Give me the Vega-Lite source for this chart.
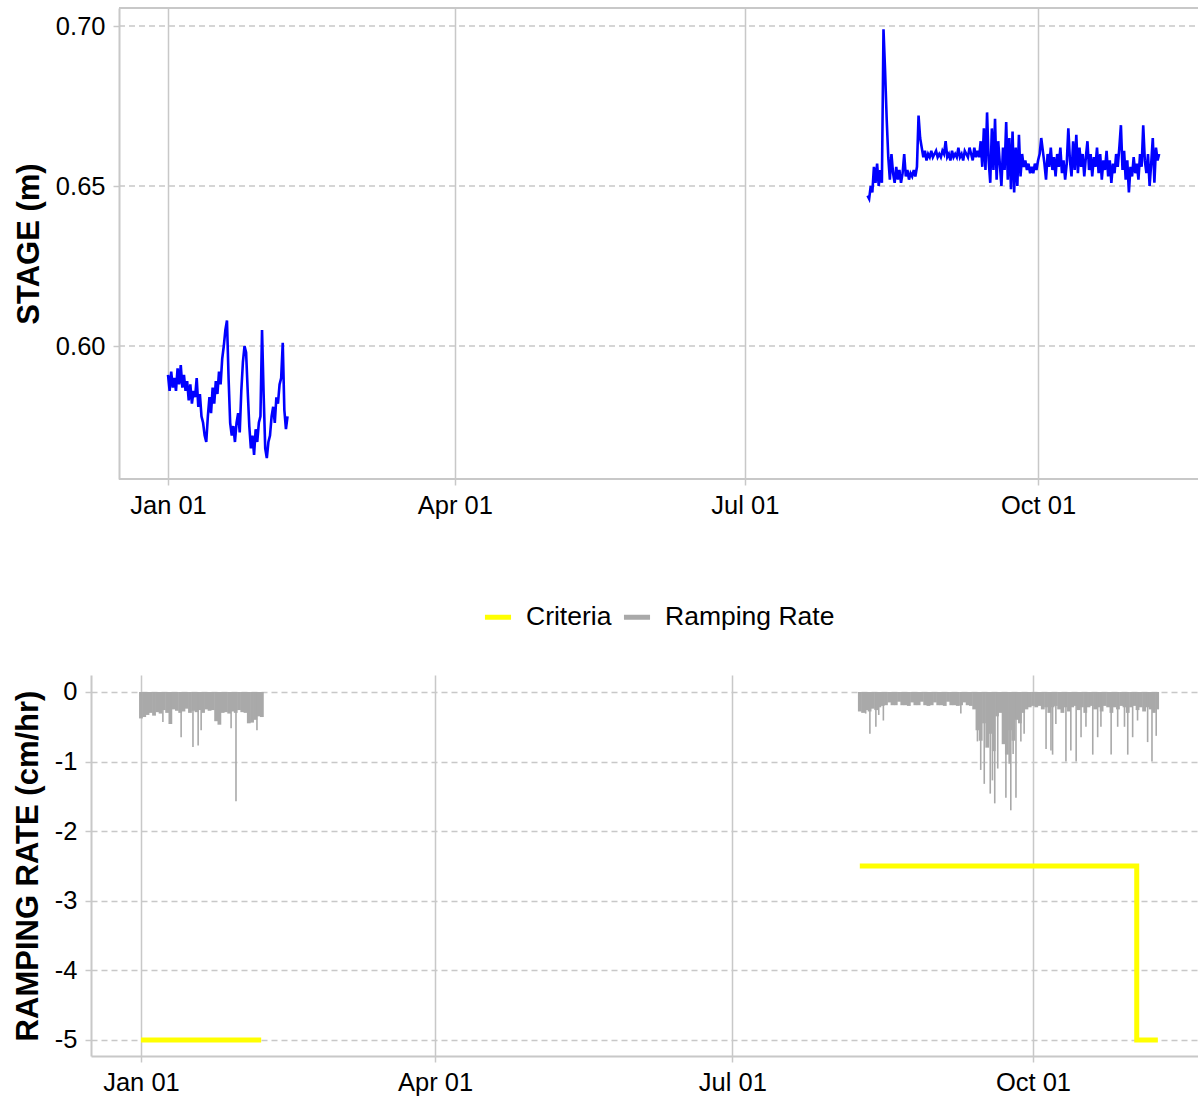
{
  "$schema": "https://vega.github.io/schema/vega-lite/v6.json",
  "padding": {"left": 12, "top": 7, "right": 0, "bottom": 0},
  "spacing": 156,
  "datasets": {
    "stage": [
      {"t":"2021-01-01T00:00","v":0.591,"s":1},{"t":"2021-01-01T12:00","v":0.586,"s":1},
      {"t":"2021-01-02T00:00","v":0.592,"s":1},{"t":"2021-01-02T12:00","v":0.587,"s":1},
      {"t":"2021-01-03T00:00","v":0.590,"s":1},{"t":"2021-01-03T12:00","v":0.586,"s":1},
      {"t":"2021-01-04T00:00","v":0.593,"s":1},{"t":"2021-01-04T12:00","v":0.588,"s":1},
      {"t":"2021-01-05T00:00","v":0.594,"s":1},{"t":"2021-01-05T12:00","v":0.587,"s":1},
      {"t":"2021-01-06T00:00","v":0.591,"s":1},{"t":"2021-01-06T12:00","v":0.586,"s":1},
      {"t":"2021-01-07T00:00","v":0.589,"s":1},{"t":"2021-01-07T12:00","v":0.583,"s":1},
      {"t":"2021-01-08T00:00","v":0.588,"s":1},{"t":"2021-01-08T12:00","v":0.582,"s":1},
      {"t":"2021-01-09T00:00","v":0.586,"s":1},{"t":"2021-01-09T12:00","v":0.584,"s":1},
      {"t":"2021-01-10T00:00","v":0.590,"s":1},{"t":"2021-01-10T12:00","v":0.581,"s":1},
      {"t":"2021-01-11T00:00","v":0.585,"s":1},{"t":"2021-01-11T12:00","v":0.578,"s":1},
      {"t":"2021-01-12T00:00","v":0.576,"s":1},{"t":"2021-01-12T12:00","v":0.572,"s":1},
      {"t":"2021-01-13T00:00","v":0.570,"s":1},{"t":"2021-01-13T12:00","v":0.578,"s":1},
      {"t":"2021-01-14T00:00","v":0.584,"s":1},{"t":"2021-01-14T12:00","v":0.579,"s":1},
      {"t":"2021-01-15T00:00","v":0.587,"s":1},{"t":"2021-01-15T12:00","v":0.582,"s":1},
      {"t":"2021-01-16T00:00","v":0.589,"s":1},{"t":"2021-01-16T12:00","v":0.585,"s":1},
      {"t":"2021-01-17T00:00","v":0.592,"s":1},{"t":"2021-01-17T12:00","v":0.588,"s":1},
      {"t":"2021-01-18T00:00","v":0.596,"s":1},{"t":"2021-01-18T12:00","v":0.600,"s":1},
      {"t":"2021-01-19T00:00","v":0.605,"s":1},{"t":"2021-01-19T12:00","v":0.608,"s":1},
      {"t":"2021-01-20T00:00","v":0.590,"s":1},{"t":"2021-01-20T12:00","v":0.576,"s":1},
      {"t":"2021-01-21T00:00","v":0.572,"s":1},{"t":"2021-01-21T12:00","v":0.575,"s":1},
      {"t":"2021-01-22T00:00","v":0.570,"s":1},{"t":"2021-01-22T12:00","v":0.576,"s":1},
      {"t":"2021-01-23T00:00","v":0.579,"s":1},{"t":"2021-01-23T12:00","v":0.573,"s":1},
      {"t":"2021-01-24T00:00","v":0.586,"s":1},{"t":"2021-01-24T12:00","v":0.595,"s":1},
      {"t":"2021-01-25T00:00","v":0.600,"s":1},{"t":"2021-01-25T12:00","v":0.598,"s":1},
      {"t":"2021-01-26T00:00","v":0.586,"s":1},{"t":"2021-01-26T12:00","v":0.575,"s":1},
      {"t":"2021-01-27T00:00","v":0.568,"s":1},{"t":"2021-01-27T12:00","v":0.572,"s":1},
      {"t":"2021-01-28T00:00","v":0.566,"s":1},{"t":"2021-01-28T12:00","v":0.574,"s":1},
      {"t":"2021-01-29T00:00","v":0.570,"s":1},{"t":"2021-01-29T12:00","v":0.576,"s":1},
      {"t":"2021-01-30T00:00","v":0.578,"s":1},{"t":"2021-01-30T12:00","v":0.605,"s":1},
      {"t":"2021-01-31T00:00","v":0.585,"s":1},{"t":"2021-01-31T12:00","v":0.568,"s":1},
      {"t":"2021-02-01T00:00","v":0.565,"s":1},{"t":"2021-02-01T12:00","v":0.570,"s":1},
      {"t":"2021-02-02T00:00","v":0.572,"s":1},{"t":"2021-02-02T12:00","v":0.578,"s":1},
      {"t":"2021-02-03T00:00","v":0.581,"s":1},{"t":"2021-02-03T12:00","v":0.576,"s":1},
      {"t":"2021-02-04T00:00","v":0.584,"s":1},{"t":"2021-02-04T12:00","v":0.582,"s":1},
      {"t":"2021-02-05T00:00","v":0.588,"s":1},{"t":"2021-02-05T12:00","v":0.590,"s":1},
      {"t":"2021-02-06T00:00","v":0.601,"s":1},{"t":"2021-02-06T12:00","v":0.580,"s":1},
      {"t":"2021-02-07T00:00","v":0.574,"s":1},{"t":"2021-02-07T12:00","v":0.578,"s":1},
      {"t":"2021-08-08T12:00","v":0.647,"s":2},
      {"t":"2021-08-09T00:00","v":0.646,"s":2},{"t":"2021-08-09T12:00","v":0.650,"s":2},
      {"t":"2021-08-10T00:00","v":0.648,"s":2},{"t":"2021-08-10T12:00","v":0.656,"s":2},
      {"t":"2021-08-11T00:00","v":0.651,"s":2},{"t":"2021-08-11T12:00","v":0.657,"s":2},
      {"t":"2021-08-12T00:00","v":0.650,"s":2},{"t":"2021-08-12T12:00","v":0.655,"s":2},
      {"t":"2021-08-13T00:00","v":0.651,"s":2},{"t":"2021-08-13T12:00","v":0.699,"s":2},
      {"t":"2021-08-14T00:00","v":0.686,"s":2},{"t":"2021-08-14T12:00","v":0.671,"s":2},
      {"t":"2021-08-15T00:00","v":0.659,"s":2},{"t":"2021-08-15T12:00","v":0.652,"s":2},
      {"t":"2021-08-16T00:00","v":0.660,"s":2},{"t":"2021-08-16T12:00","v":0.654,"s":2},
      {"t":"2021-08-17T00:00","v":0.651,"s":2},{"t":"2021-08-17T12:00","v":0.656,"s":2},
      {"t":"2021-08-18T00:00","v":0.652,"s":2},{"t":"2021-08-18T12:00","v":0.655,"s":2},
      {"t":"2021-08-19T00:00","v":0.651,"s":2},{"t":"2021-08-19T12:00","v":0.654,"s":2},
      {"t":"2021-08-20T00:00","v":0.660,"s":2},{"t":"2021-08-20T12:00","v":0.653,"s":2},
      {"t":"2021-08-21T00:00","v":0.655,"s":2},{"t":"2021-08-21T12:00","v":0.652,"s":2},
      {"t":"2021-08-22T00:00","v":0.654,"s":2},{"t":"2021-08-22T12:00","v":0.653,"s":2},
      {"t":"2021-08-23T00:00","v":0.655,"s":2},{"t":"2021-08-23T12:00","v":0.653,"s":2},
      {"t":"2021-08-24T00:00","v":0.656,"s":2},{"t":"2021-08-24T12:00","v":0.672,"s":2},
      {"t":"2021-08-25T00:00","v":0.665,"s":2},{"t":"2021-08-25T12:00","v":0.662,"s":2},
      {"t":"2021-08-26T00:00","v":0.659,"s":2},{"t":"2021-08-26T12:00","v":0.661,"s":2},
      {"t":"2021-08-27T00:00","v":0.658,"s":2},{"t":"2021-08-27T12:00","v":0.660,"s":2},
      {"t":"2021-08-28T00:00","v":0.659,"s":2},{"t":"2021-08-28T12:00","v":0.661,"s":2},
      {"t":"2021-08-29T00:00","v":0.659,"s":2},{"t":"2021-08-29T12:00","v":0.660,"s":2},
      {"t":"2021-08-30T00:00","v":0.661,"s":2},{"t":"2021-08-30T12:00","v":0.659,"s":2},
      {"t":"2021-08-31T00:00","v":0.660,"s":2},{"t":"2021-08-31T12:00","v":0.659,"s":2},
      {"t":"2021-09-01T00:00","v":0.661,"s":2},{"t":"2021-09-01T12:00","v":0.660,"s":2},
      {"t":"2021-09-02T00:00","v":0.664,"s":2},{"t":"2021-09-02T12:00","v":0.659,"s":2},
      {"t":"2021-09-03T00:00","v":0.660,"s":2},{"t":"2021-09-03T12:00","v":0.658,"s":2},
      {"t":"2021-09-04T00:00","v":0.661,"s":2},{"t":"2021-09-04T12:00","v":0.659,"s":2},
      {"t":"2021-09-05T00:00","v":0.660,"s":2},{"t":"2021-09-05T12:00","v":0.659,"s":2},
      {"t":"2021-09-06T00:00","v":0.662,"s":2},{"t":"2021-09-06T12:00","v":0.659,"s":2},
      {"t":"2021-09-07T00:00","v":0.660,"s":2},{"t":"2021-09-07T12:00","v":0.658,"s":2},
      {"t":"2021-09-08T00:00","v":0.661,"s":2},{"t":"2021-09-08T12:00","v":0.660,"s":2},
      {"t":"2021-09-09T00:00","v":0.659,"s":2},{"t":"2021-09-09T12:00","v":0.662,"s":2},
      {"t":"2021-09-10T00:00","v":0.660,"s":2},{"t":"2021-09-10T12:00","v":0.658,"s":2},
      {"t":"2021-09-11T00:00","v":0.662,"s":2},{"t":"2021-09-11T12:00","v":0.659,"s":2},
      {"t":"2021-09-12T00:00","v":0.661,"s":2},{"t":"2021-09-12T12:00","v":0.659,"s":2},
      {"t":"2021-09-13T00:00","v":0.664,"s":2},{"t":"2021-09-13T12:00","v":0.656,"s":2},
      {"t":"2021-09-14T00:00","v":0.668,"s":2},{"t":"2021-09-14T12:00","v":0.655,"s":2},
      {"t":"2021-09-15T00:00","v":0.673,"s":2},{"t":"2021-09-15T12:00","v":0.658,"s":2},
      {"t":"2021-09-16T00:00","v":0.651,"s":2},{"t":"2021-09-16T12:00","v":0.668,"s":2},
      {"t":"2021-09-17T00:00","v":0.655,"s":2},{"t":"2021-09-17T12:00","v":0.671,"s":2},
      {"t":"2021-09-18T00:00","v":0.652,"s":2},{"t":"2021-09-18T12:00","v":0.664,"s":2},
      {"t":"2021-09-19T00:00","v":0.657,"s":2},{"t":"2021-09-19T12:00","v":0.650,"s":2},
      {"t":"2021-09-20T00:00","v":0.662,"s":2},{"t":"2021-09-20T12:00","v":0.655,"s":2},
      {"t":"2021-09-21T00:00","v":0.670,"s":2},{"t":"2021-09-21T12:00","v":0.652,"s":2},
      {"t":"2021-09-22T00:00","v":0.665,"s":2},{"t":"2021-09-22T12:00","v":0.649,"s":2},
      {"t":"2021-09-23T00:00","v":0.667,"s":2},{"t":"2021-09-23T12:00","v":0.648,"s":2},
      {"t":"2021-09-24T00:00","v":0.662,"s":2},{"t":"2021-09-24T12:00","v":0.650,"s":2},
      {"t":"2021-09-25T00:00","v":0.666,"s":2},{"t":"2021-09-25T12:00","v":0.653,"s":2},
      {"t":"2021-09-26T00:00","v":0.660,"s":2},{"t":"2021-09-26T12:00","v":0.656,"s":2},
      {"t":"2021-09-27T00:00","v":0.658,"s":2},{"t":"2021-09-27T12:00","v":0.655,"s":2},
      {"t":"2021-09-28T00:00","v":0.657,"s":2},{"t":"2021-09-28T12:00","v":0.654,"s":2},
      {"t":"2021-09-29T00:00","v":0.656,"s":2},{"t":"2021-09-29T12:00","v":0.654,"s":2},
      {"t":"2021-09-30T00:00","v":0.657,"s":2},{"t":"2021-09-30T12:00","v":0.655,"s":2},
      {"t":"2021-10-01T00:00","v":0.658,"s":2},{"t":"2021-10-01T12:00","v":0.660,"s":2},
      {"t":"2021-10-02T00:00","v":0.665,"s":2},{"t":"2021-10-02T12:00","v":0.661,"s":2},
      {"t":"2021-10-03T00:00","v":0.657,"s":2},{"t":"2021-10-03T12:00","v":0.652,"s":2},
      {"t":"2021-10-04T00:00","v":0.660,"s":2},{"t":"2021-10-04T12:00","v":0.656,"s":2},
      {"t":"2021-10-05T00:00","v":0.662,"s":2},{"t":"2021-10-05T12:00","v":0.655,"s":2},
      {"t":"2021-10-06T00:00","v":0.659,"s":2},{"t":"2021-10-06T12:00","v":0.653,"s":2},
      {"t":"2021-10-07T00:00","v":0.660,"s":2},{"t":"2021-10-07T12:00","v":0.656,"s":2},
      {"t":"2021-10-08T00:00","v":0.662,"s":2},{"t":"2021-10-08T12:00","v":0.654,"s":2},
      {"t":"2021-10-09T00:00","v":0.658,"s":2},{"t":"2021-10-09T12:00","v":0.652,"s":2},
      {"t":"2021-10-10T00:00","v":0.657,"s":2},{"t":"2021-10-10T12:00","v":0.668,"s":2},
      {"t":"2021-10-11T00:00","v":0.658,"s":2},{"t":"2021-10-11T12:00","v":0.653,"s":2},
      {"t":"2021-10-12T00:00","v":0.664,"s":2},{"t":"2021-10-12T12:00","v":0.655,"s":2},
      {"t":"2021-10-13T00:00","v":0.666,"s":2},{"t":"2021-10-13T12:00","v":0.654,"s":2},
      {"t":"2021-10-14T00:00","v":0.662,"s":2},{"t":"2021-10-14T12:00","v":0.656,"s":2},
      {"t":"2021-10-15T00:00","v":0.660,"s":2},{"t":"2021-10-15T12:00","v":0.653,"s":2},
      {"t":"2021-10-16T00:00","v":0.659,"s":2},{"t":"2021-10-16T12:00","v":0.664,"s":2},
      {"t":"2021-10-17T00:00","v":0.655,"s":2},{"t":"2021-10-17T12:00","v":0.660,"s":2},
      {"t":"2021-10-18T00:00","v":0.653,"s":2},{"t":"2021-10-18T12:00","v":0.659,"s":2},
      {"t":"2021-10-19T00:00","v":0.656,"s":2},{"t":"2021-10-19T12:00","v":0.662,"s":2},
      {"t":"2021-10-20T00:00","v":0.654,"s":2},{"t":"2021-10-20T12:00","v":0.660,"s":2},
      {"t":"2021-10-21T00:00","v":0.652,"s":2},{"t":"2021-10-21T12:00","v":0.658,"s":2},
      {"t":"2021-10-22T00:00","v":0.655,"s":2},{"t":"2021-10-22T12:00","v":0.661,"s":2},
      {"t":"2021-10-23T00:00","v":0.653,"s":2},{"t":"2021-10-23T12:00","v":0.658,"s":2},
      {"t":"2021-10-24T00:00","v":0.651,"s":2},{"t":"2021-10-24T12:00","v":0.657,"s":2},
      {"t":"2021-10-25T00:00","v":0.654,"s":2},{"t":"2021-10-25T12:00","v":0.660,"s":2},
      {"t":"2021-10-26T00:00","v":0.656,"s":2},{"t":"2021-10-26T12:00","v":0.662,"s":2},
      {"t":"2021-10-27T00:00","v":0.669,"s":2},{"t":"2021-10-27T12:00","v":0.655,"s":2},
      {"t":"2021-10-28T00:00","v":0.661,"s":2},{"t":"2021-10-28T12:00","v":0.652,"s":2},
      {"t":"2021-10-29T00:00","v":0.658,"s":2},{"t":"2021-10-29T12:00","v":0.648,"s":2},
      {"t":"2021-10-30T00:00","v":0.656,"s":2},{"t":"2021-10-30T12:00","v":0.653,"s":2},
      {"t":"2021-10-31T00:00","v":0.659,"s":2},{"t":"2021-10-31T12:00","v":0.654,"s":2},
      {"t":"2021-11-01T00:00","v":0.657,"s":2},{"t":"2021-11-01T12:00","v":0.652,"s":2},
      {"t":"2021-11-02T00:00","v":0.660,"s":2},{"t":"2021-11-02T12:00","v":0.656,"s":2},
      {"t":"2021-11-03T00:00","v":0.669,"s":2},{"t":"2021-11-03T12:00","v":0.658,"s":2},
      {"t":"2021-11-04T00:00","v":0.654,"s":2},{"t":"2021-11-04T12:00","v":0.660,"s":2},
      {"t":"2021-11-05T00:00","v":0.650,"s":2},{"t":"2021-11-05T12:00","v":0.657,"s":2},
      {"t":"2021-11-06T00:00","v":0.665,"s":2},{"t":"2021-11-06T12:00","v":0.651,"s":2},
      {"t":"2021-11-07T00:00","v":0.662,"s":2},{"t":"2021-11-07T12:00","v":0.658,"s":2},
      {"t":"2021-11-08T00:00","v":0.660,"s":2}
    ],
    "ramp_band": [
      {"t":"2021-01-01T00:00","v":-0.38},{"t":"2021-01-02T00:00","v":-0.36},{"t":"2021-01-03T00:00","v":-0.33},
      {"t":"2021-01-04T00:00","v":-0.30},{"t":"2021-01-05T00:00","v":-0.34},{"t":"2021-01-06T00:00","v":-0.29},
      {"t":"2021-01-07T00:00","v":-0.31},{"t":"2021-01-08T00:00","v":-0.26},{"t":"2021-01-09T00:00","v":-0.30},
      {"t":"2021-01-10T00:00","v":-0.46},{"t":"2021-01-11T00:00","v":-0.25},{"t":"2021-01-12T00:00","v":-0.27},
      {"t":"2021-01-13T00:00","v":-0.30},{"t":"2021-01-14T00:00","v":-0.28},{"t":"2021-01-15T00:00","v":-0.24},
      {"t":"2021-01-16T00:00","v":-0.30},{"t":"2021-01-17T00:00","v":-0.27},{"t":"2021-01-18T00:00","v":-0.29},
      {"t":"2021-01-19T00:00","v":-0.26},{"t":"2021-01-20T00:00","v":-0.30},{"t":"2021-01-21T00:00","v":-0.25},
      {"t":"2021-01-22T00:00","v":-0.27},{"t":"2021-01-23T00:00","v":-0.26},{"t":"2021-01-24T00:00","v":-0.42},
      {"t":"2021-01-25T00:00","v":-0.47},{"t":"2021-01-26T00:00","v":-0.30},{"t":"2021-01-27T00:00","v":-0.29},
      {"t":"2021-01-28T00:00","v":-0.31},{"t":"2021-01-29T00:00","v":-0.28},{"t":"2021-01-30T00:00","v":-0.30},
      {"t":"2021-01-31T00:00","v":-0.26},{"t":"2021-02-01T00:00","v":-0.29},{"t":"2021-02-02T00:00","v":-0.30},
      {"t":"2021-02-03T00:00","v":-0.45},{"t":"2021-02-04T00:00","v":-0.44},{"t":"2021-02-05T00:00","v":-0.40},
      {"t":"2021-02-06T00:00","v":-0.35},{"t":"2021-02-07T00:00","v":-0.36},
      {"t":"2021-08-09T00:00","v":-0.28},{"t":"2021-08-10T00:00","v":-0.30},{"t":"2021-08-11T00:00","v":-0.26},
      {"t":"2021-08-12T00:00","v":-0.28},{"t":"2021-08-13T00:00","v":-0.24},{"t":"2021-08-14T00:00","v":-0.26},
      {"t":"2021-08-15T00:00","v":-0.22},{"t":"2021-08-16T00:00","v":-0.20},{"t":"2021-08-17T00:00","v":-0.19},
      {"t":"2021-08-18T00:00","v":-0.15},{"t":"2021-08-19T00:00","v":-0.19},{"t":"2021-08-20T00:00","v":-0.19},
      {"t":"2021-08-21T00:00","v":-0.14},{"t":"2021-08-22T00:00","v":-0.19},{"t":"2021-08-23T00:00","v":-0.19},
      {"t":"2021-08-24T00:00","v":-0.20},{"t":"2021-08-25T00:00","v":-0.15},{"t":"2021-08-26T00:00","v":-0.19},
      {"t":"2021-08-27T00:00","v":-0.19},{"t":"2021-08-28T00:00","v":-0.14},{"t":"2021-08-29T00:00","v":-0.19},
      {"t":"2021-08-30T00:00","v":-0.20},{"t":"2021-08-31T00:00","v":-0.19},{"t":"2021-09-01T00:00","v":-0.15},
      {"t":"2021-09-02T00:00","v":-0.19},{"t":"2021-09-03T00:00","v":-0.19},{"t":"2021-09-04T00:00","v":-0.20},
      {"t":"2021-09-05T00:00","v":-0.14},{"t":"2021-09-06T00:00","v":-0.19},{"t":"2021-09-07T00:00","v":-0.19},
      {"t":"2021-09-08T00:00","v":-0.20},{"t":"2021-09-09T00:00","v":-0.19},{"t":"2021-09-10T00:00","v":-0.15},
      {"t":"2021-09-11T00:00","v":-0.19},{"t":"2021-09-12T00:00","v":-0.20},{"t":"2021-09-13T00:00","v":-0.25},
      {"t":"2021-09-14T00:00","v":-0.55},{"t":"2021-09-15T00:00","v":-0.70},{"t":"2021-09-16T00:00","v":-0.45},
      {"t":"2021-09-17T00:00","v":-0.80},{"t":"2021-09-18T00:00","v":-0.60},{"t":"2021-09-19T00:00","v":-0.85},
      {"t":"2021-09-20T00:00","v":-0.35},{"t":"2021-09-21T00:00","v":-0.30},{"t":"2021-09-22T00:00","v":-0.75},
      {"t":"2021-09-23T00:00","v":-0.90},{"t":"2021-09-24T00:00","v":-0.55},{"t":"2021-09-25T00:00","v":-0.70},
      {"t":"2021-09-26T00:00","v":-0.40},{"t":"2021-09-27T00:00","v":-0.45},{"t":"2021-09-28T00:00","v":-0.30},
      {"t":"2021-09-29T00:00","v":-0.25},{"t":"2021-09-30T00:00","v":-0.22},{"t":"2021-10-01T00:00","v":-0.20},
      {"t":"2021-10-02T00:00","v":-0.22},{"t":"2021-10-03T00:00","v":-0.20},{"t":"2021-10-04T00:00","v":-0.25},
      {"t":"2021-10-05T00:00","v":-0.22},{"t":"2021-10-06T00:00","v":-0.30},{"t":"2021-10-07T00:00","v":-0.22},
      {"t":"2021-10-08T00:00","v":-0.20},{"t":"2021-10-09T00:00","v":-0.25},{"t":"2021-10-10T00:00","v":-0.30},
      {"t":"2021-10-11T00:00","v":-0.22},{"t":"2021-10-12T00:00","v":-0.28},{"t":"2021-10-13T00:00","v":-0.22},
      {"t":"2021-10-14T00:00","v":-0.20},{"t":"2021-10-15T00:00","v":-0.26},{"t":"2021-10-16T00:00","v":-0.22},
      {"t":"2021-10-17T00:00","v":-0.30},{"t":"2021-10-18T00:00","v":-0.22},{"t":"2021-10-19T00:00","v":-0.20},
      {"t":"2021-10-20T00:00","v":-0.25},{"t":"2021-10-21T00:00","v":-0.22},{"t":"2021-10-22T00:00","v":-0.28},
      {"t":"2021-10-23T00:00","v":-0.20},{"t":"2021-10-24T00:00","v":-0.22},{"t":"2021-10-25T00:00","v":-0.30},
      {"t":"2021-10-26T00:00","v":-0.22},{"t":"2021-10-27T00:00","v":-0.25},{"t":"2021-10-28T00:00","v":-0.20},
      {"t":"2021-10-29T00:00","v":-0.22},{"t":"2021-10-30T00:00","v":-0.30},{"t":"2021-10-31T00:00","v":-0.22},
      {"t":"2021-11-01T00:00","v":-0.20},{"t":"2021-11-02T00:00","v":-0.26},{"t":"2021-11-03T00:00","v":-0.22},
      {"t":"2021-11-04T00:00","v":-0.28},{"t":"2021-11-05T00:00","v":-0.22},{"t":"2021-11-06T00:00","v":-0.25},
      {"t":"2021-11-07T00:00","v":-0.30},{"t":"2021-11-08T00:00","v":-0.25}
    ],
    "ramp_spikes": [
      {"t":"2021-01-07T17:00","v":-0.43},{"t":"2021-01-10T05:00","v":-0.46},{"t":"2021-01-13T07:00","v":-0.65},
      {"t":"2021-01-16T22:00","v":-0.79},{"t":"2021-01-18T12:00","v":-0.77},{"t":"2021-01-19T10:00","v":-0.55},
      {"t":"2021-01-28T14:00","v":-0.52},{"t":"2021-01-30T02:00","v":-1.57},{"t":"2021-02-05T12:00","v":-0.55},
      {"t":"2021-08-10T19:00","v":-0.31},{"t":"2021-08-12T02:00","v":-0.60},{"t":"2021-08-13T22:00","v":-0.50},
      {"t":"2021-08-14T19:00","v":-0.33},{"t":"2021-08-16T05:00","v":-0.41},{"t":"2021-09-08T22:00","v":-0.31},
      {"t":"2021-09-14T00:00","v":-0.71},{"t":"2021-09-15T00:00","v":-1.12},{"t":"2021-09-16T02:00","v":-1.32},
      {"t":"2021-09-17T22:00","v":-1.46},{"t":"2021-09-18T14:00","v":-1.27},{"t":"2021-09-19T07:00","v":-1.60},
      {"t":"2021-09-20T05:00","v":-1.10},{"t":"2021-09-22T17:00","v":-1.52},{"t":"2021-09-23T17:00","v":-1.03},
      {"t":"2021-09-24T05:00","v":-1.70},{"t":"2021-09-24T22:00","v":-0.89},{"t":"2021-09-25T19:00","v":-1.52},
      {"t":"2021-09-27T07:00","v":-0.71},{"t":"2021-09-28T07:00","v":-0.60},{"t":"2021-10-05T00:00","v":-0.82},
      {"t":"2021-10-06T12:00","v":-0.84},{"t":"2021-10-07T00:00","v":-0.90},{"t":"2021-10-08T00:00","v":-0.46},
      {"t":"2021-10-11T02:00","v":-1.00},{"t":"2021-10-12T14:00","v":-0.84},{"t":"2021-10-14T05:00","v":-1.00},
      {"t":"2021-10-15T17:00","v":-0.65},{"t":"2021-10-17T05:00","v":-0.50},{"t":"2021-10-19T07:00","v":-0.90},
      {"t":"2021-10-20T19:00","v":-0.65},{"t":"2021-10-21T19:00","v":-0.50},{"t":"2021-10-24T22:00","v":-0.90},
      {"t":"2021-10-26T22:00","v":-0.50},{"t":"2021-10-29T00:00","v":-0.50},{"t":"2021-10-30T00:00","v":-0.90},
      {"t":"2021-10-31T12:00","v":-0.65},{"t":"2021-11-02T00:00","v":-0.41},{"t":"2021-11-05T02:00","v":-0.72},
      {"t":"2021-11-06T10:00","v":-1.00},{"t":"2021-11-07T17:00","v":-0.63}
    ],
    "criteria": [
      {"t":"2021-01-01T00:00","v":-5,"s":1},{"t":"2021-02-06T19:00","v":-5,"s":1},
      {"t":"2021-08-09T00:00","v":-2.5,"s":2},{"t":"2021-11-01T18:00","v":-2.5,"s":2},
      {"t":"2021-11-01T18:00","v":-5,"s":2},{"t":"2021-11-08T05:00","v":-5,"s":2}
    ],
    "stage_grid": [{"g": 0.6}, {"g": 0.65}, {"g": 0.7}],
    "stage_frame": [{"g": 0.55844}, {"g": 0.70563}]
  },
  "vconcat": [
    {
      "width": 1107,
      "height": 471,
      "layer": [
        {
          "data": {"name": "stage_grid"},
          "mark": {"type": "rule", "color": "#c8c8c8", "strokeWidth": 1.5, "strokeDash": [6, 4]},
          "encoding": {
            "x": {"datum": {"expr": "datetime(2020, 11, 16, 15, 0)"}, "type": "temporal"},
            "x2": {"datum": {"expr": "datetime(2021, 10, 20, 4, 30)"}},
            "y": {"field": "g", "type": "quantitative"}
          }
        },
        {
          "data": {"name": "stage"},
          "mark": {"type": "line", "color": "#0000FF", "strokeWidth": 2.6, "clip": true},
          "encoding": {
            "x": {
              "field": "t", "type": "temporal",
              "scale": {"domain": [{"year": 2020, "month": 12, "date": 7, "hours": 20}, {"year": 2021, "month": 11, "date": 20, "hours": 4, "minutes": 30}]},
              "axis": {"title": null, "format": "%b %d", "domain": false, "grid": true,
                "values": [{"year": 2021, "month": 1, "date": 1}, {"year": 2021, "month": 4, "date": 1}, {"year": 2021, "month": 7, "date": 1}, {"year": 2021, "month": 10, "date": 1}]}
            },
            "y": {
              "field": "v", "type": "quantitative",
              "scale": {"domain": [0.55844, 0.70563], "nice": false, "zero": false},
              "axis": {"title": "STAGE (m)", "values": [0.6, 0.65, 0.7], "format": ".2f", "offset": -28, "grid": false}
            },
            "detail": {"field": "s", "type": "nominal"}
          }
        },
        {
          "data": {"name": "stage_frame"},
          "mark": {"type": "rule", "color": "#c8c8c8", "strokeWidth": 2},
          "encoding": {
            "x": {"datum": {"expr": "datetime(2020, 11, 16, 15, 0)"}, "type": "temporal"},
            "x2": {"datum": {"expr": "datetime(2021, 10, 20, 4, 30)"}},
            "y": {"field": "g", "type": "quantitative"}
          }
        }
      ]
    },
    {
      "width": 1107,
      "height": 381,
      "encoding": {
        "x": {
          "field": "t", "type": "temporal",
          "scale": {"domain": [{"year": 2020, "month": 12, "date": 16, "hours": 17}, {"year": 2021, "month": 11, "date": 20, "hours": 12}]},
          "axis": {"title": null, "format": "%b %d",
            "values": [{"year": 2021, "month": 1, "date": 1}, {"year": 2021, "month": 4, "date": 1}, {"year": 2021, "month": 7, "date": 1}, {"year": 2021, "month": 10, "date": 1}]}
        }
      },
      "layer": [
        {
          "data": {"name": "ramp_band"},
          "mark": {"type": "rule", "strokeWidth": 3.8},
          "encoding": {
            "y": {"field": "v", "type": "quantitative",
              "scale": {"domain": [-5.23, 0.244], "nice": false, "zero": false},
              "axis": {"title": "RAMPING RATE (cm/hr)", "values": [0, -1, -2, -3, -4, -5], "labelExpr": "toString(datum.value)"}},
            "y2": {"datum": 0},
            "color": {"datum": "Ramping Rate", "type": "nominal",
              "scale": {"domain": ["Criteria", "Ramping Rate"], "range": ["#FFFF00", "#A9A9A9"]},
              "legend": {"orient": "none", "legendX": 391, "legendY": 593, "direction": "horizontal", "title": null,
                "symbolType": "stroke", "symbolStrokeWidth": 5, "symbolSize": 680, "labelFontSize": 26.5,
                "labelFont": "Liberation Sans", "labelColor": "black", "labelLimit": 400, "columnPadding": 1, "labelOffset": 12, "padding": 0}}
          }
        },
        {
          "data": {"name": "ramp_spikes"},
          "mark": {"type": "rule", "strokeWidth": 1.6},
          "encoding": {
            "y": {"field": "v", "type": "quantitative"},
            "y2": {"datum": 0},
            "color": {"datum": "Ramping Rate", "type": "nominal"}
          }
        },
        {
          "data": {"name": "criteria"},
          "mark": {"type": "line", "strokeWidth": 5},
          "encoding": {
            "y": {"field": "v", "type": "quantitative"},
            "color": {"datum": "Criteria", "type": "nominal"},
            "detail": {"field": "s", "type": "nominal"}
          }
        },
        {
          "mark": {"type": "rule", "color": "#c8c8c8", "strokeWidth": 2},
          "encoding": {"y": {"datum": 0.244, "type": "quantitative"}}
        }
      ]
    }
  ],
  "config": {
    "view": {"stroke": null},
    "axis": {
      "labelFont": "Liberation Sans", "labelFontSize": 25.5, "labelColor": "black",
      "titleFont": "Liberation Sans", "titleFontSize": 31, "titleFontWeight": "bold", "titleColor": "black",
      "tickColor": "#c8c8c8", "tickSize": 6, "tickWidth": 1.5,
      "domainColor": "#c8c8c8", "domainWidth": 2,
      "gridColor": "#c8c8c8", "gridWidth": 1.5, "labelOverlap": false
    },
    "axisX": {"gridDash": [], "labelPadding": 8},
    "axisY": {"gridDash": [6, 4], "labelPadding": 8, "titlePadding": 10}
  }
}
